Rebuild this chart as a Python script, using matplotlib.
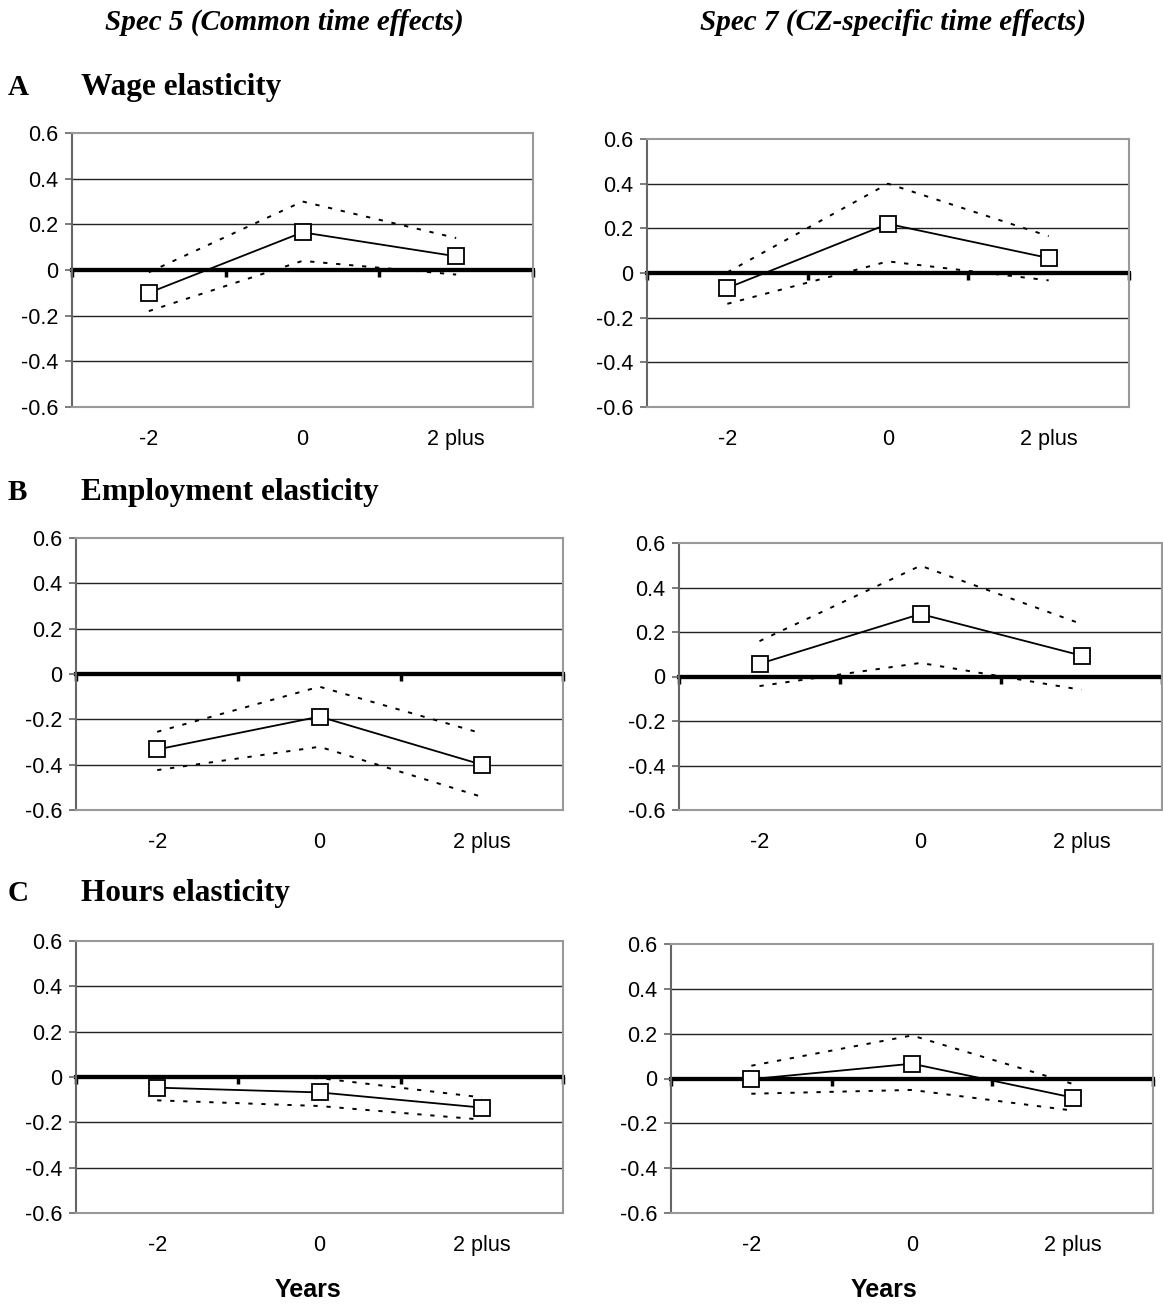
import matplotlib
matplotlib.use("Agg")
import matplotlib.pyplot as plt

# === Data ===
CATS = ["-2", "0", "2 plus"]
YTICKS = [-0.6, -0.4, -0.2, 0, 0.2, 0.4, 0.6]
YLABELS = ["-0.6", "-0.4", "-0.2", "0", "0.2", "0.4", "0.6"]

# Wage elasticity
wage5_est = [-0.10, 0.165, 0.06]
wage5_hi = [-0.01, 0.30, 0.14]
wage5_lo = [-0.18, 0.04, -0.02]
wage7_est = [-0.067, 0.22, 0.067]
wage7_hi = [0.003, 0.40, 0.165]
wage7_lo = [-0.138, 0.052, -0.033]

# Employment elasticity
emp5_est = [-0.333, -0.188, -0.40]
emp5_hi = [-0.255, -0.056, -0.262]
emp5_lo = [-0.424, -0.321, -0.542]
emp7_est = [0.057, 0.281, 0.094]
emp7_hi = [0.159, 0.498, 0.236]
emp7_lo = [-0.043, 0.061, -0.06]

# Hours elasticity
hrs5_est = [-0.047, -0.068, -0.135]
hrs5_hi = [0.0, -0.005, -0.09]
hrs5_lo = [-0.103, -0.128, -0.188]
hrs7_est = [-0.003, 0.066, -0.085]
hrs7_hi = [0.057, 0.192, -0.024]
hrs7_lo = [-0.068, -0.051, -0.143]

# === Figure ===
W, H = 1163, 1307
fig = plt.figure(figsize=(W / 100, H / 100), dpi=100)
SANS = "Liberation Sans"
SERIF = "Liberation Serif"


def box(l, t, r, b):
    return [l / W, 1 - b / H, (r - l) / W, (b - t) / H]


def panel(rect, est, hi, lo):
    ax = fig.add_axes(box(*rect))
    x = list(range(len(CATS)))
    ax.set_xlim(-0.5, len(CATS) - 0.5)
    ax.set_ylim(-0.6, 0.6)

    for y in YTICKS[1:-1]:
        if y != 0:
            ax.axhline(y, color="#222222", lw=1.0, zorder=1)
    ax.axhline(0, color="black", lw=3.0, zorder=2.5)

    ax.plot(x, hi, color="black", lw=1.4, ls=(0, (2.2, 4.5)), zorder=2)
    ax.plot(x, lo, color="black", lw=1.4, ls=(0, (2.2, 4.5)), zorder=2)
    ax.plot(x, est, color="black", lw=1.3, marker="s", ms=11,
            mfc="white", mec="black", mew=1.3, zorder=3)

    for side in ["top", "right", "bottom"]:
        ax.spines[side].set_color("#999999")
        ax.spines[side].set_linewidth(1.5)
    ax.spines["left"].set_color("#666666")
    ax.spines["left"].set_linewidth(1.5)

    ax.set_yticks(YTICKS)
    ax.set_yticklabels(YLABELS, fontsize=15.5, family=SANS)
    ax.tick_params(axis="y", direction="out", length=5, width=1.2,
                   color="#666666", pad=5)
    ax.set_xticks(x)
    ax.set_xticklabels(CATS, fontsize=15.5, family=SANS)
    ax.tick_params(axis="x", length=0, pad=16)

    # category axis through zero with ticks at category boundaries
    sec = ax.secondary_xaxis(0.5)
    sec.set_alignment("bottom")
    sec.set_xticks([i - 0.5 for i in range(len(CATS) + 1)])
    sec.set_xticklabels([])
    sec.spines["bottom"].set_color("black")
    sec.spines["bottom"].set_linewidth(3.0)
    sec.tick_params(axis="x", direction="out", length=5, width=2.5,
                    color="black")
    return ax


panel((72, 133, 533, 407), wage5_est, wage5_hi, wage5_lo)
panel((647, 139, 1129, 407), wage7_est, wage7_hi, wage7_lo)
panel((76, 538, 563, 810), emp5_est, emp5_hi, emp5_lo)
panel((679, 543, 1162, 810), emp7_est, emp7_hi, emp7_lo)
panel((76, 941, 563, 1213), hrs5_est, hrs5_hi, hrs5_lo)
panel((671, 944, 1153, 1213), hrs7_est, hrs7_hi, hrs7_lo)

# === Text ===
def ftext(x, y, s, **kw):
    fig.text(x / W, 1 - y / H, s, **kw)


ftext(284, 30, "Spec 5 (Common time effects)", ha="center", va="baseline",
      fontsize=21, family=SERIF, weight="bold", style="italic")
ftext(893, 30, "Spec 7 (CZ-specific time effects)", ha="center", va="baseline",
      fontsize=21, family=SERIF, weight="bold", style="italic")

for letter, title, yb in [("A", "Wage elasticity", 95),
                          ("B", "Employment elasticity", 500),
                          ("C", "Hours elasticity", 901)]:
    ftext(8, yb, letter, ha="left", va="baseline", fontsize=21,
          family=SERIF, weight="bold")
    ftext(81, yb, title, ha="left", va="baseline", fontsize=22.5,
          family=SERIF, weight="bold")

ftext(308, 1290, "Years", ha="center", va="center", fontsize=18,
      family=SANS, weight="bold")
ftext(884, 1290, "Years", ha="center", va="center", fontsize=18,
      family=SANS, weight="bold")

fig.savefig("out.png", dpi=100)
